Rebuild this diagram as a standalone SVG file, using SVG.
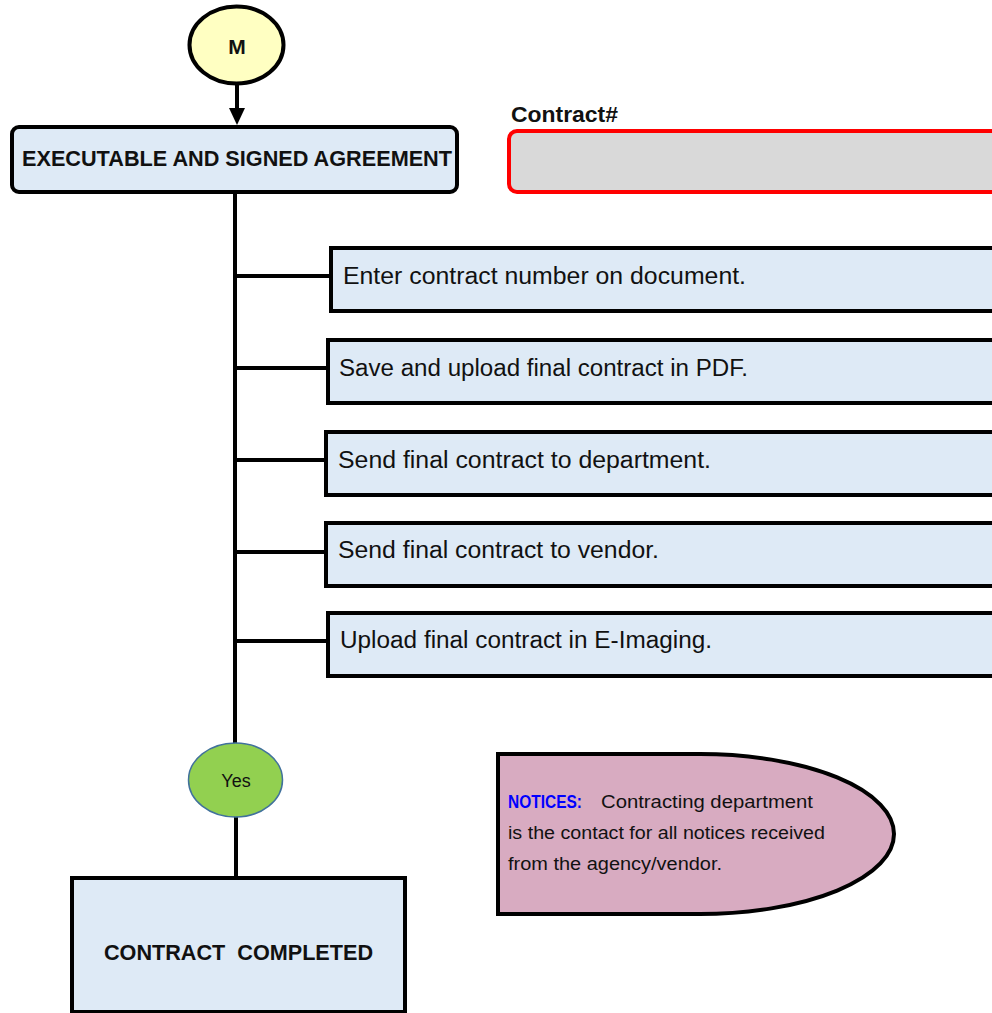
<svg xmlns="http://www.w3.org/2000/svg" width="992" height="1013" viewBox="0 0 992 1013">
<style>
.box{fill:#DEEAF6;stroke:#000;stroke-width:4}
.t{font-family:"Liberation Sans",Arial,sans-serif;fill:#111}
.b{font-weight:bold}
.step{font-size:23px}
.note{font-size:17.5px}
.conn{stroke:#000;stroke-width:4;fill:none}
</style>
<rect width="992" height="1013" fill="#fff"/>
<g id="connectors">
<path class="conn" d="M237,85 V112"/>
<polygon points="229,108 245,108 237,125" fill="#000"/>
<path class="conn" d="M235,193 V744"/>
<path class="conn" d="M235,276 H331"/>
<path class="conn" d="M235,368 H328"/>
<path class="conn" d="M235,460 H326"/>
<path class="conn" d="M235,552 H326"/>
<path class="conn" d="M235,641 H328"/>
<path class="conn" d="M236,816 V878"/>
</g>
<g id="node-m">
<ellipse cx="236.5" cy="45" rx="47" ry="38.5" fill="#FFFFC2" stroke="#000" stroke-width="4"/>
<text class="t b" x="237" y="53.5" font-size="21" text-anchor="middle">M</text>
</g>
<g id="node-agreement">
<rect class="box" x="12" y="127" width="445" height="65" rx="7"/>
<text class="t b" x="22" y="165.5" font-size="21.5" textLength="430" lengthAdjust="spacingAndGlyphs">EXECUTABLE AND SIGNED AGREEMENT</text>
</g>
<g id="node-contract-number">
<text class="t b" x="511" y="122" font-size="22" textLength="107" lengthAdjust="spacingAndGlyphs">Contract#</text>
<rect x="509" y="131" width="500" height="61" rx="8" fill="#D9D9D9" stroke="#FF0000" stroke-width="4"/>
</g>
<g id="node-step1">
<rect class="box" x="331" y="248" width="680" height="63"/>
<text class="t step" x="343" y="284" textLength="403" lengthAdjust="spacingAndGlyphs">Enter contract number on document.</text>
</g>
<g id="node-step2">
<rect class="box" x="328" y="340" width="680" height="63"/>
<text class="t step" x="339" y="376" textLength="409" lengthAdjust="spacingAndGlyphs">Save and upload final contract in PDF.</text>
</g>
<g id="node-step3">
<rect class="box" x="326" y="432" width="680" height="63"/>
<text class="t step" x="338" y="468" textLength="373" lengthAdjust="spacingAndGlyphs">Send final contract to department.</text>
</g>
<g id="node-step4">
<rect class="box" x="326" y="523" width="680" height="63"/>
<text class="t step" x="338" y="558" textLength="321" lengthAdjust="spacingAndGlyphs">Send final contract to vendor.</text>
</g>
<g id="node-step5">
<rect class="box" x="328" y="613" width="680" height="63"/>
<text class="t step" x="340" y="648" textLength="372" lengthAdjust="spacingAndGlyphs">Upload final contract in E-Imaging.</text>
</g>
<g id="node-yes">
<ellipse cx="235.5" cy="780" rx="47" ry="37" fill="#92D050" stroke="#41719C" stroke-width="1.5"/>
<text class="t" x="236" y="786.5" font-size="18" text-anchor="middle" fill="#1a1a1a">Yes</text>
</g>
<g id="node-completed">
<rect class="box" x="72" y="878" width="333" height="134"/>
<text class="t b" x="104" y="960" font-size="21.5" textLength="269" lengthAdjust="spacingAndGlyphs" xml:space="preserve">CONTRACT  COMPLETED</text>
</g>
<g id="node-notices">
<path d="M498,754 H700 A194,80 0 0 1 700,914 H498 Z" fill="#D8ABC1" stroke="#000" stroke-width="4"/>
<text class="t note" x="508" y="808"><tspan class="b" fill="#0000FF" textLength="74" lengthAdjust="spacingAndGlyphs">NOTICES:</tspan><tspan x="601" textLength="212" lengthAdjust="spacingAndGlyphs">Contracting department</tspan></text>
<text class="t note" x="508" y="839" textLength="317" lengthAdjust="spacingAndGlyphs">is the contact for all notices received</text>
<text class="t note" x="508" y="870" textLength="214" lengthAdjust="spacingAndGlyphs">from the agency/vendor.</text>
</g>
</svg>
